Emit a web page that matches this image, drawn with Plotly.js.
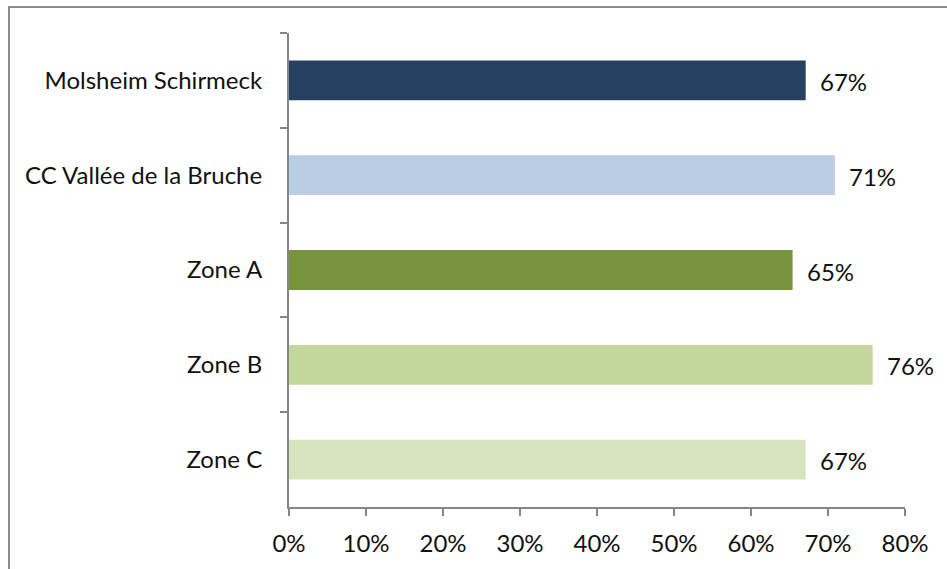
<!DOCTYPE html>
<html>
<head>
<meta charset="utf-8">
<script src="https://cdn.plot.ly/plotly-3.0.1.min.js"></script>
<style>
html,body{margin:0;padding:0;background:#fff;}
#chart{width:947px;height:569px;}
</style>
</head>
<body>
<div id="chart"></div>
<script>
const categories = ["Molsheim Schirmeck", "CC Vallée de la Bruche", "Zone A", "Zone B", "Zone C"];
const values = [0.671, 0.709, 0.654, 0.758, 0.671];
const labels = ["67%", "71%", "65%", "76%", "67%"];
const colors = ["#254061", "#B9CDE5", "#77933C", "#C3D69B", "#D7E4BD"];
const xTicks = [0, 0.1, 0.2, 0.3, 0.4, 0.5, 0.6, 0.7, 0.8];
const xTickText = ["0%", "10%", "20%", "30%", "40%", "50%", "60%", "70%", "80%"];

const W = 947, H = 569;
const mL = 289, mR = 42, mT = 33, mB = 62;
const pw = W - mL - mR, ph = H - mT - mB;
const px = v => (v - mL) / pw;
const py = v => (H - mB - v) / ph;

const font = {family: "Lato, 'Liberation Sans', sans-serif", size: 24, color: "#111"};
const axisColor = "#868686";

const trace = {
  type: "bar",
  orientation: "h",
  y: categories,
  x: values,
  marker: {color: colors, line: {width: 0}},
  hoverinfo: "none"
};

const annotations = categories.map((c, i) => ({
  x: values[i], y: c, xref: "x", yref: "y",
  text: labels[i], showarrow: false,
  xanchor: "left", yanchor: "middle", xshift: 12, yshift: -1,
  font: font
}));

const frameColor = "#8a8a8a";
const layout = {
  width: W, height: H,
  margin: {l: mL, r: mR, t: mT, b: mB, pad: 0},
  paper_bgcolor: "#fff",
  plot_bgcolor: "#fff",
  showlegend: false,
  bargap: 0.58,
  font: font,
  xaxis: {
    range: [0, 0.8],
    tickvals: xTicks,
    ticktext: xTickText,
    showgrid: false,
    zeroline: false,
    showline: true,
    linecolor: axisColor,
    linewidth: 2,
    ticks: "outside",
    ticklen: 7,
    tickwidth: 2,
    tickcolor: axisColor,
    tickfont: font,
    ticklabelstandoff: 7,
    fixedrange: true
  },
  yaxis: {
    type: "category",
    categoryorder: "array",
    categoryarray: categories,
    autorange: "reversed",
    showgrid: false,
    zeroline: false,
    showline: true,
    linecolor: axisColor,
    linewidth: 2,
    ticks: "outside",
    tickson: "boundaries",
    ticklen: 7,
    tickwidth: 2,
    tickcolor: axisColor,
    tickfont: font,
    ticklabelstandoff: 20,
    fixedrange: true
  },
  annotations: annotations,
  shapes: [
    {type: "line", xref: "paper", yref: "paper", x0: px(8), x1: px(W + 5), y0: py(7), y1: py(7), line: {color: frameColor, width: 2}},
    {type: "line", xref: "paper", yref: "paper", x0: px(9), x1: px(9), y0: py(6), y1: py(H + 5), line: {color: frameColor, width: 2}}
  ]
};

Plotly.newPlot("chart", [trace], layout, {displayModeBar: false, staticPlot: true});
</script>
</body>
</html>
